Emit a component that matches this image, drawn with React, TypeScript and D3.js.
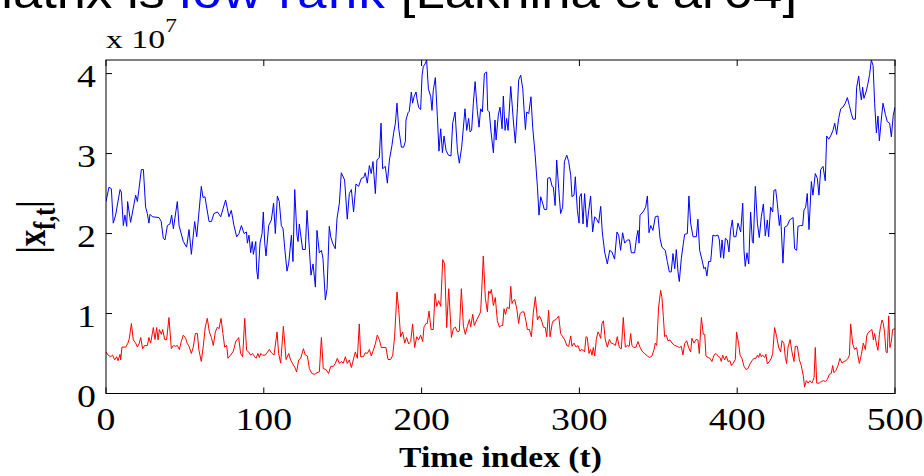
import React from 'react';
import * as d3 from 'd3';

const W = 924;
const H = 476;

const xTicks = [0, 100, 200, 300, 400, 500];
const yTicks = [0, 1, 2, 3, 4];
const titlePre = 'matrix is ';
const titleBlue = 'low rank';
const titlePost = " [Lakhina et al'04]";
const xLabel = 'Time index (t)';

// values in units of 1e7
const blueTime = [
  0, 1.9, 3.4, 4.6, 6.1, 8.9, 9.7, 11, 12, 13.1, 13.7, 15.6, 18.8, 19.9, 22.4, 23.7, 25.1, 26.2, 27.2, 27.9,
  29.4, 33.6, 35, 36.3, 37.4, 38.9, 40.5, 41.6, 42.7, 45.2, 46.3, 49, 51.1, 52.6, 54.1, 56.2, 57.5, 60.4, 61.5, 62.7,
  65.3, 66.8, 68.4, 70.6, 72.7, 75.8, 77.9, 79.4, 81.1, 82.8, 84.3, 85.8, 87.5, 89, 89.6, 90.6, 91.7, 92.7, 93.4, 94.9,
  95.5, 96.3, 97.6, 98.9, 99.7, 100.6, 101.4, 103.1, 104.8, 106.2, 107.3, 108.6, 109.8, 111.1, 112.2, 113.2, 114.7, 115.8, 117.5, 118.5,
  119.6, 121, 121.7, 122.5, 124.6, 126.3, 127.4, 128.4, 129.9, 131.2, 132.7, 133.7, 135.2, 136.5, 137.5, 139, 140.1, 141.5, 142.4, 143.6,
  145.3, 146.4, 147.9, 149.1, 151.2, 152.9, 154.2, 155.5, 156.9, 158.4, 160.1, 161.8, 163.3, 164.3, 165.6, 166.9, 168.1, 169.2, 170.7, 171.7,
  173.2, 174.3, 175.3, 177, 178.3, 179.6, 181.2, 182.3, 183.4, 184.4, 185.5, 187.2, 188.6, 189.7, 190.1, 191.4, 192.2, 193.5, 194.3, 195.2,
  196.5, 197.1, 198.1, 199.4, 200.3, 201.1, 202.2, 203.2, 204.3, 205.8, 206.6, 207.4, 208.7, 210, 211, 212.1, 213.2, 214.2, 215.5, 217,
  218.6, 219.7, 221.2, 222.7, 223.9, 225.4, 227.5, 228.6, 229.8, 230.7, 231.7, 232.8, 233.9, 235.3, 236.4, 237.4, 238.5, 239.8, 241.2, 241.9,
  242.9, 244, 245.5, 246.5, 247.2, 248.6, 249.7, 251, 251.8, 252.9, 253.9, 254.8, 256.5, 258.1, 259.4, 260.7, 261.5, 262.8, 264.1, 264.9,
  265.8, 266.6, 267.9, 269.3, 270.4, 271.9, 273.4, 274.4, 275.5, 276.7, 277.8, 279.3, 279.9, 281.4, 282.7, 283.5, 284.6, 285.6, 286.9, 288.1,
  289.4, 290.5, 292, 293.2, 294.5, 295.3, 296.6, 297.4, 298.7, 299.8, 300.2, 301.2, 302.3, 303.3, 304.8, 305.9, 307.1, 308.4, 309.7, 310.9,
  312.2, 313.5, 314.5, 316, 317.7, 319.2, 320.6, 322.3, 323.8, 324.9, 326.1, 327.4, 328.7, 330.4, 331.8, 332.9, 335, 336.3, 337.1, 337.8,
  338.4, 340.3, 342, 343.1, 344.1, 345.2, 346.6, 348.1, 349.8, 351.1, 352.3, 354.4, 355.7, 357, 358.2, 359.3, 360.4, 361.4, 362.5, 363.3,
  364.6, 365.9, 366.7, 368.4, 369.4, 370.5, 372, 374.1, 375.1, 376.2, 377.7, 378.9, 379.8, 380.8, 381.9, 383.2, 384.6, 386.1, 387.8, 388.7,
  389.5, 390.4, 391.4, 392.5, 393.7, 394.8, 395.8, 396.9, 397.9, 399.2, 400.5, 402.2, 403.5, 404.3, 405.1, 406.2, 407.3, 408.5, 409.6, 410.2,
  411.5, 412.8, 414, 415.3, 416.6, 417.8, 419.1, 419.9, 421.2, 422.5, 423.3, 424.4, 425.4, 426.7, 427.5, 429, 430.1, 431.8, 433.2, 435.4,
  436.4, 437.7, 438.5, 440.2, 441.5, 442.3, 443.4, 444.4, 445.5, 447, 448, 449.5, 450.8, 451.8, 452.9, 454.4, 455.8, 456.7, 458, 459.2,
  460.7, 461.8, 463, 464.3, 465.6, 467, 468.5, 469.8, 471.1, 472.3, 473.4, 474.9, 475.7, 477, 477.8, 478.7, 479.5, 480.3, 481.8, 482.9,
  483.9, 485, 486.1, 487.1, 488.2, 489.2, 490.1, 491.3, 492.4, 493.9, 495.1, 496.6, 497.7, 498.9, 500,
];
const blueValue = [
  2.40, 2.58, 2.56, 2.13, 2.23, 2.55, 2.52, 2.10, 2.23, 2.09, 2.40, 2.14, 2.48, 2.40, 2.80, 2.80, 2.33, 2.25, 2.13, 2.24,
  2.21, 2.20, 2.15, 1.94, 1.92, 2.10, 2.12, 2.23, 2.06, 2.40, 2.10, 1.90, 1.83, 2.05, 1.74, 2.15, 1.96, 2.59, 2.45, 2.46,
  2.15, 2.15, 2.25, 2.27, 2.21, 2.42, 2.21, 2.29, 2.10, 1.96, 2.00, 2.10, 2.00, 2.02, 1.88, 1.98, 1.76, 1.90, 1.74, 1.90,
  1.54, 1.43, 1.88, 2.00, 2.27, 1.88, 1.72, 2.10, 2.17, 2.38, 2.00, 2.47, 2.40, 2.10, 2.06, 1.83, 1.53, 1.63, 1.98, 1.65,
  2.55, 1.98, 1.90, 2.12, 1.80, 1.80, 2.29, 1.96, 1.48, 1.62, 1.33, 2.04, 1.76, 1.79, 1.69, 1.17, 1.31, 2.09, 1.96, 1.88,
  1.81, 2.19, 2.38, 2.76, 2.67, 2.18, 2.50, 2.55, 2.27, 2.62, 2.59, 2.69, 2.70, 2.76, 2.63, 2.85, 2.75, 2.90, 2.50, 2.92,
  2.95, 3.38, 2.81, 2.84, 2.63, 2.92, 3.10, 3.26, 3.38, 3.63, 3.31, 3.08, 3.08, 3.15, 3.42, 3.51, 3.53, 3.77, 3.63, 3.71,
  3.77, 3.68, 3.58, 3.55, 3.98, 4.09, 4.12, 4.17, 3.81, 3.71, 3.54, 3.79, 3.95, 3.46, 3.03, 3.31, 3.01, 3.22, 3.04, 2.98,
  2.97, 3.38, 3.52, 3.04, 2.88, 3.08, 3.56, 3.29, 3.44, 3.27, 3.29, 3.63, 3.90, 3.54, 3.33, 3.56, 3.52, 4.00, 4.02, 3.54,
  3.52, 3.27, 3.01, 3.42, 3.17, 3.48, 3.58, 3.31, 3.72, 3.29, 3.44, 3.29, 3.84, 3.42, 3.13, 3.56, 3.92, 3.98, 3.81, 3.56,
  3.30, 3.52, 3.50, 3.71, 3.33, 3.00, 2.58, 2.23, 2.46, 2.38, 2.30, 2.30, 2.69, 2.70, 2.59, 2.58, 2.35, 2.92, 2.56, 2.25,
  2.33, 2.90, 2.98, 2.90, 2.73, 2.46, 2.48, 2.71, 2.29, 2.13, 2.46, 2.50, 2.12, 2.50, 2.08, 2.29, 2.47, 2.02, 2.21, 2.18,
  2.13, 2.34, 2.02, 1.77, 1.62, 1.79, 1.77, 1.68, 2.02, 1.98, 1.79, 2.01, 1.88, 1.92, 1.92, 1.76, 1.76, 1.96, 2.04, 1.88,
  2.23, 2.27, 2.33, 2.47, 2.01, 2.10, 2.04, 2.21, 2.22, 1.94, 1.83, 1.79, 1.65, 1.52, 1.52, 1.75, 1.56, 1.80, 1.52, 1.40,
  1.69, 1.88, 1.99, 2.00, 2.47, 2.13, 1.96, 1.96, 2.18, 1.79, 1.67, 1.56, 1.58, 1.47, 1.65, 1.65, 1.98, 1.97, 1.98, 1.92,
  1.70, 1.92, 1.69, 1.94, 1.92, 1.77, 2.04, 2.17, 1.96, 1.96, 2.13, 2.02, 2.38, 1.79, 1.59, 1.76, 1.62, 2.27, 1.90, 1.88,
  2.59, 2.13, 1.95, 2.21, 2.37, 1.97, 2.17, 1.96, 2.33, 2.27, 2.54, 2.55, 2.38, 2.10, 2.23, 1.63, 2.08, 2.10, 2.17, 2.20,
  1.81, 1.79, 2.09, 2.10, 2.10, 2.29, 2.33, 2.50, 2.05, 2.65, 2.48, 2.75, 2.69, 2.48, 2.80, 2.84, 2.66, 3.22, 3.18, 3.22,
  3.29, 3.38, 3.24, 3.44, 3.56, 3.58, 3.63, 3.70, 3.60, 3.50, 3.43, 3.43, 3.83, 3.97, 3.79, 3.67, 3.83, 3.69, 3.78, 3.88,
  3.99, 4.17, 4.10, 3.63, 3.26, 3.47, 3.16, 3.42, 3.63, 3.49, 3.40, 3.38, 3.21, 3.48, 3.58,
];

const redTime = [
  0, 1.3, 3, 4.2, 5.5, 6.8, 7.6, 8.9, 9.3, 10.1, 12.5, 13.9, 14.8, 16.1, 17.3, 18.8, 19.9, 21.1, 22, 23.2,
  24.5, 26.2, 27.2, 28.3, 30, 31.1, 32.1, 33, 33.8, 35.1, 35.9, 37.2, 38.4, 39.9, 41.4, 42.7, 43.9, 45.2, 46.5, 47.7,
  49, 50.5, 51.5, 52.6, 54.1, 55.3, 56.6, 57.9, 58.9, 60.4, 61.7, 62.9, 64.2, 65.5, 66.8, 68, 69.3, 70.6, 71.6, 72.9,
  74.1, 75.2, 76.5, 77.3, 79, 80.7, 82.2, 84.1, 85.3, 86.6, 87.9, 89.1, 90.4, 91.7, 92.9, 94.2, 95.1, 96.3, 97.2, 98,
  99.3, 101, 103.5, 104.8, 106.5, 108.4, 109.4, 110.7, 112.4, 114.1, 115.8, 117, 118.3, 119.6, 120.8, 122.1, 123.4, 125.1, 126.3, 127.6,
  128.9, 130.5, 132.2, 133.7, 135.2, 136.5, 137.7, 139.4, 141.1, 142.4, 144.1, 145.3, 146.6, 147.9, 149.1, 150.4, 151.7, 152.9, 154.2, 155.5,
  156.7, 158, 159.3, 160.5, 161.4, 163.1, 164.3, 165.6, 166.9, 168.1, 169.4, 170.7, 171.9, 173.2, 174.5, 176.2, 177.4, 178.7, 180.4, 181.7,
  182.9, 184.4, 185.5, 186.7, 188, 189.3, 190.5, 191.8, 193.1, 194.3, 195.6, 196.9, 198.1, 199.4, 200.7, 201.5, 202.8, 203.6, 204.7, 206,
  207.4, 208.5, 209.6, 210.8, 212.1, 213.4, 214.6, 215.9, 217.2, 218.9, 220.1, 221.4, 222.7, 223.9, 225.2, 226.5, 227.7, 229, 230.3, 231.1,
  232.4, 233.4, 234.9, 236.2, 237.4, 238.1, 239.1, 240.4, 241.7, 242.5, 243.4, 244.2, 245.5, 246.7, 248, 249.3, 250.5, 251.4, 252.2, 253.1,
  254.3, 255.6, 256.5, 257.3, 258.1, 259, 260.3, 261.5, 262.4, 263.6, 264.9, 266.2, 267, 268.3, 269.6, 270.8, 272.1, 273.4, 274.6, 275.9,
  277.2, 278.4, 279.3, 280.5, 281.4, 282.7, 283.5, 285.2, 286.9, 288.1, 289.4, 290.7, 292, 293.2, 294.5, 295.3, 296.6, 297.9, 299.1, 300.4,
  301.2, 302.5, 303.3, 304.2, 305, 306.1, 307.1, 308, 308.8, 309.7, 310.7, 311.8, 312.6, 313.5, 314.3, 315.2, 316.4, 317.7, 319, 320.2,
  321.5, 322.8, 324, 325.3, 326.6, 327.8, 329.1, 330.4, 331.6, 332.5, 333.3, 334.6, 335.9, 337.1, 338.4, 339.7, 341.3, 343, 344.5, 346,
  347.3, 348.1, 349, 350.2, 351.5, 352.3, 353.2, 354, 355.1, 356.1, 357.4, 358.7, 360.4, 362.1, 363.3, 364.6, 365.6, 366.7, 368, 369.2,
  370.5, 371.3, 372.6, 373.9, 375.1, 376, 377.3, 378.5, 379.4, 380.2, 381.5, 382.7, 384, 385.3, 386.6, 387.8, 389.1, 389.9, 390.8, 392.1,
  393.1, 394.2, 395.4, 396.3, 397.5, 398.8, 399.6, 400.9, 401.8, 403, 404.3, 405.6, 406.8, 408.1, 409.4, 410.6, 411.9, 412.8, 413.6, 414.4,
  415.3, 416.1, 417.4, 418.2, 419.1, 420.4, 421.6, 422.5, 423.7, 425, 426.3, 427.5, 428.4, 429.6, 430.5, 431.3, 432.2, 433.5, 434.7, 436,
  436.8, 438.1, 439.4, 440.6, 441.9, 442.7, 443.8, 444.9, 446.1, 447.4, 448.7, 449.5, 450.4, 452, 453.3, 454.6, 455.8, 457.1, 458.4, 459.6,
  460.5, 461.3, 462.6, 463.9, 465.1, 466.4, 467.7, 468.9, 470.2, 471.1, 471.9, 473.2, 474.4, 475.7, 476.5, 477.4, 478.7, 479.9, 481.2, 482.1,
  482.9, 484.2, 485.4, 486.3, 487.1, 488.4, 489.2, 490.1, 490.9, 491.8, 492.6, 493.4, 494.3, 495.1, 496, 496.8, 497.7, 498.5, 500,
];
const redValue = [
  0.52, 0.48, 0.46, 0.48, 0.42, 0.46, 0.41, 0.49, 0.42, 0.58, 0.58, 0.63, 0.69, 0.875, 0.67, 0.63, 0.58, 0.63, 0.70, 0.56,
  0.60, 0.60, 0.70, 0.63, 0.825, 0.675, 0.825, 0.67, 0.80, 0.74, 0.80, 0.675, 0.67, 0.95, 0.56, 0.60, 0.59, 0.60, 0.55, 0.65,
  0.73, 0.69, 0.625, 0.59, 0.50, 0.58, 0.75, 0.75, 0.54, 0.40, 0.60, 0.83, 0.94, 0.77, 0.70, 0.60, 0.77, 0.83, 0.81, 0.94,
  0.75, 0.58, 0.60, 0.44, 0.48, 0.53, 0.65, 0.70, 0.50, 0.46, 0.94, 0.54, 0.52, 0.48, 0.50, 0.46, 0.44, 0.50, 0.45, 0.50,
  0.48, 0.48, 0.55, 0.51, 0.48, 0.77, 0.50, 0.38, 0.84, 0.425, 0.50, 0.42, 0.37, 0.33, 0.27, 0.42, 0.44, 0.56, 0.48, 0.47,
  0.31, 0.25, 0.24, 0.26, 0.27, 0.70, 0.31, 0.30, 0.25, 0.34, 0.34, 0.375, 0.44, 0.375, 0.40, 0.38, 0.46, 0.375, 0.42, 0.325,
  0.42, 0.52, 0.44, 0.87, 0.46, 0.46, 0.51, 0.50, 0.55, 0.47, 0.54, 0.62, 0.73, 0.675, 0.575, 0.575, 0.575, 0.425, 0.425, 0.48,
  0.71, 1.27, 1.05, 0.71, 0.77, 0.63, 0.70, 0.62, 0.65, 0.87, 0.575, 0.71, 0.67, 0.73, 0.65, 0.83, 0.875, 0.875, 1.03, 0.80,
  0.80, 1.25, 1.09, 1.16, 1.09, 1.675, 1.62, 0.825, 1.31, 0.70, 0.81, 0.83, 0.77, 0.78, 1.31, 0.84, 0.74, 0.84, 0.925, 0.83,
  0.99, 0.85, 0.92, 0.97, 1.02, 1.29, 1.72, 1.19, 1.02, 1.28, 1.25, 1.30, 1.10, 1.20, 0.91, 0.83, 0.85, 0.85, 1.06, 0.99,
  1.08, 1.06, 1.34, 1.125, 1.16, 1.175, 1.06, 0.875, 1.00, 1.02, 1.02, 0.90, 0.80, 0.80, 0.71, 1.01, 1.21, 0.92, 0.97, 0.92,
  0.83, 0.825, 0.71, 1.04, 0.71, 0.87, 0.91, 0.925, 0.97, 0.75, 0.71, 0.67, 0.60, 0.59, 0.72, 0.59, 0.63, 0.58, 0.60, 0.53,
  0.55, 0.54, 0.52, 0.71, 0.70, 0.50, 0.55, 0.48, 0.575, 0.47, 0.675, 0.77, 0.74, 0.69, 0.875, 0.91, 0.675, 0.58, 0.675, 0.63,
  0.62, 0.60, 0.71, 0.575, 0.56, 0.95, 0.58, 0.60, 0.59, 0.75, 0.60, 0.575, 0.58, 0.65, 0.58, 0.53, 0.50, 0.47, 0.45, 0.47,
  0.55, 0.63, 0.60, 1.08, 1.29, 1.20, 0.96, 0.71, 0.73, 0.66, 0.67, 0.63, 0.60, 0.59, 0.575, 0.59, 0.48, 0.625, 0.66, 0.575,
  0.52, 0.69, 0.63, 0.675, 0.67, 0.50, 0.95, 0.74, 0.74, 0.47, 0.45, 0.44, 0.40, 0.48, 0.50, 0.47, 0.45, 0.40, 0.48, 0.42,
  0.47, 0.40, 0.41, 0.35, 0.38, 0.425, 0.77, 0.625, 0.48, 0.44, 0.34, 0.30, 0.31, 0.37, 0.41, 0.44, 0.44, 0.48, 0.45, 0.50,
  0.46, 0.48, 0.45, 0.49, 0.37, 0.40, 0.44, 0.50, 0.825, 0.71, 0.575, 0.52, 0.66, 0.625, 0.45, 0.375, 0.575, 0.675, 0.52, 0.40,
  0.59, 0.59, 0.42, 0.35, 0.22, 0.08, 0.16, 0.13, 0.16, 0.13, 0.20, 0.575, 0.13, 0.13, 0.15, 0.16, 0.15, 0.175, 0.24, 0.25,
  0.35, 0.26, 0.29, 0.35, 0.44, 0.38, 0.40, 0.41, 0.44, 0.48, 0.87, 0.62, 0.55, 0.575, 0.47, 0.375, 0.49, 0.63, 0.55, 0.72,
  0.76, 0.78, 0.80, 0.67, 0.75, 0.60, 0.54, 0.74, 0.84, 0.92, 0.875, 0.76, 0.52, 0.51, 0.97, 0.575, 0.65, 0.80, 0.81,
];

const SERIF = "'Liberation Serif', 'Times New Roman', Times, serif";
const SANS = "'Liberation Sans', Arial, Helvetica, sans-serif";
const SX = 1.12; // horizontal stretch of title / axis label
const SXT = 1.22; // horizontal stretch of tick numbers

export default function App() {
  const left = 106;
  const right = 895;
  const top = 60;
  const bottom = 393.5;
  const x = d3.scaleLinear().domain([0, 500]).range([left, right]);
  const y = d3.scaleLinear().domain([0, 4.17]).range([bottom, top]);

  const line = d3
    .line<[number, number]>()
    .x((d) => x(d[0]))
    .y((d) => y(d[1]));

  const bluePts = blueTime.map((t, i) => [t, blueValue[i]] as [number, number]);
  const redPts = redTime.map((t, i) => [t, redValue[i]] as [number, number]);
  const tickLen = 6;

  return (
    <svg
      width={W}
      height={H}
      viewBox={`0 0 ${W} ${H}`}
      style={{ position: 'absolute', left: 0, top: 0, background: '#fff' }}
    >
      <rect x={0} y={0} width={W} height={H} fill="#fff" />
      <defs>
        <clipPath id="plotclip">
          <rect x={left} y={top} width={right - left} height={bottom - top} />
        </clipPath>
      </defs>

      {/* title (cut off at the top of the picture) */}
      <text
        transform={`translate(797,8) scale(${SX},1)`}
        textAnchor="end"
        fontFamily={SANS}
        fontSize={47}
        fill="#000"
      >
        {titlePre}
        <tspan fill="#0000ff" letterSpacing={1.2}>{titleBlue}</tspan>
        {titlePost}
      </text>

      {/* data lines */}
      <g clipPath="url(#plotclip)" fill="none" strokeWidth={1}>
        <path d={line(bluePts) || ''} stroke="#0000ff" />
        <path d={line(redPts) || ''} stroke="#ff0000" />
      </g>

      {/* box */}
      <rect
        x={left}
        y={top}
        width={right - left}
        height={bottom - top}
        fill="none"
        stroke="#000"
        strokeWidth={1}
      />

      {/* x ticks */}
      {xTicks.map((t) => (
        <g key={`xt${t}`}>
          <line x1={x(t)} x2={x(t)} y1={bottom} y2={bottom - tickLen} stroke="#000" />
          <line x1={x(t)} x2={x(t)} y1={top} y2={top + tickLen} stroke="#000" />
          <text
            transform={`translate(${x(t)},430) scale(${SXT},1)`}
            textAnchor="middle"
            fontFamily={SERIF}
            fontSize={31}
            fill="#000"
          >
            {t}
          </text>
        </g>
      ))}

      {/* y ticks */}
      {yTicks.map((v) => (
        <g key={`yt${v}`}>
          <line x1={left} x2={left + tickLen} y1={y(v)} y2={y(v)} stroke="#000" />
          <line x1={right} x2={right - tickLen} y1={y(v)} y2={y(v)} stroke="#000" />
          <text
            transform={`translate(96,${y(v) + 13}) scale(${SXT},1)`}
            textAnchor="end"
            fontFamily={SERIF}
            fontSize={31}
            fill="#000"
          >
            {v}
          </text>
        </g>
      ))}

      {/* exponent */}
      <text
        transform={`translate(106,48) scale(1.3,1)`}
        fontFamily={SERIF}
        fontSize={26}
        fill="#000"
      >
        x 10
        <tspan fontSize={18} dy={-16}>
          7
        </tspan>
      </text>

      {/* x label */}
      <text
        transform={`translate(${(left + right) / 2},467) scale(${SX},1)`}
        textAnchor="middle"
        fontFamily={SERIF}
        fontWeight="bold"
        fontSize={30}
        fill="#000"
      >
        {xLabel}
      </text>

      {/* y label */}
      <text
        transform={`translate(45,227) scale(1.3,1) rotate(-90)`}
        textAnchor="middle"
        fontFamily={SERIF}
        fontWeight="bold"
        fontSize={33}
        fill="#000"
      >
        |x
        <tspan fontSize={24} dy={8}>
          f,t
        </tspan>
        <tspan dy={-8}>|</tspan>
      </text>
    </svg>
  );
}
